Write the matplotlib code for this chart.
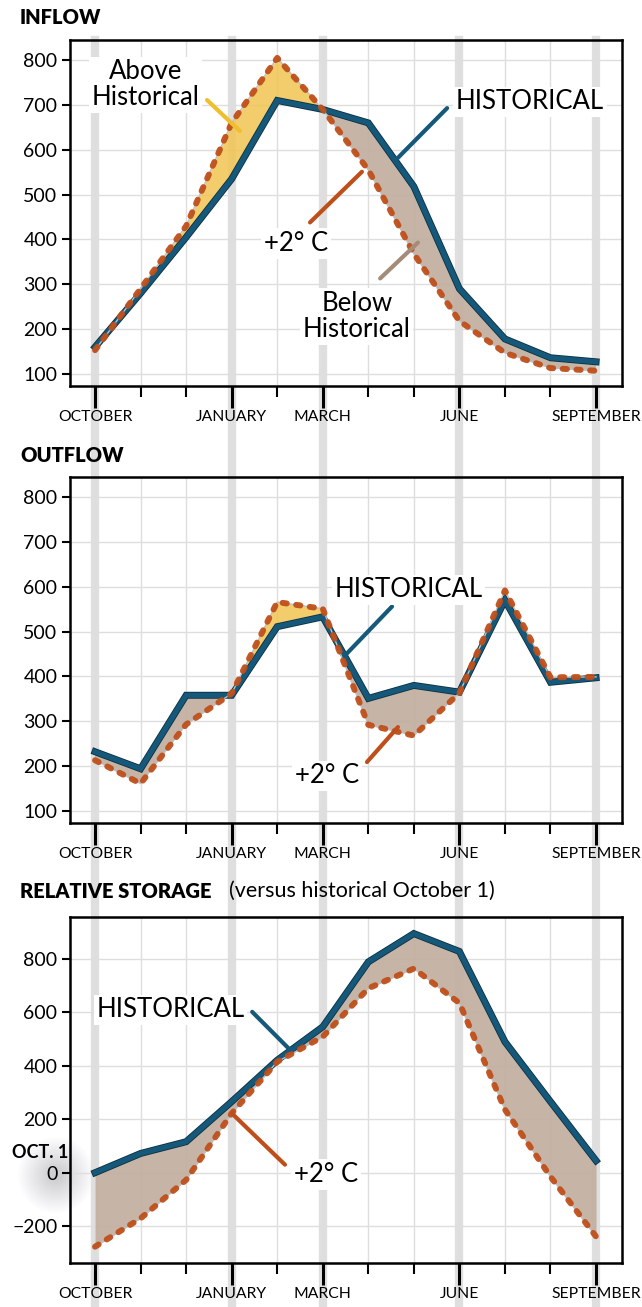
import matplotlib

matplotlib.use("Agg")
import matplotlib.pyplot as plt
import matplotlib.patheffects as pe
import numpy as np
from matplotlib.lines import Line2D
from matplotlib.patches import Circle
from matplotlib.transforms import blended_transform_factory

# --- dados ---
meses = np.arange(12)
rotulos_meses = ["OCTOBER", "", "", "JANUARY", "", "MARCH", "", "", "JUNE", "", "", "SEPTEMBER"]
meses_marcados = [0, 3, 5, 8, 11]

inflow_hist = [160, 280, 405, 535, 710, 690, 660, 518, 290, 178, 136, 127]
inflow_2c = [153, 290, 430, 660, 805, 690, 555, 368, 218, 147, 113, 107]

outflow_hist = [232, 194, 358, 358, 511, 533, 351, 380, 365, 570, 387, 397]
outflow_2c = [213, 161, 293, 362, 566, 551, 292, 268, 363, 592, 398, 399]

storage_hist = [0, 72, 116, 266, 421, 546, 789, 895, 828, 490, 266, 45]
storage_2c = [-277, -171, -27, 222, 415, 509, 690, 764, 635, 236, -15, -239]

AZUL = "#15587a"
AZUL_BORDA = "#0b2f3f"
LARANJA = "#bf4f1a"
AMARELO = "#f2c452"
MARROM = "#c3b1a1"
MARROM_LINHA = "#a48c78"
FAIXA = "#dfdfdf"

FONTE = ["Lato", "DejaVu Sans"]
plt.rcParams["font.family"] = FONTE

fig = plt.figure(figsize=(6.42, 13.07), dpi=100)
esq, larg = 70 / 642, 552 / 642
alt = 346 / 1307
tops = [40, 477, 917]
eixos = [fig.add_axes([esq, 1 - (t + 346) / 1307, larg, alt]) for t in tops]


def painel(ax, hist, mais2, ylim, yticks):
    ax.set_facecolor("none")
    ax.set_xlim(-0.55, 11.57)
    ax.set_ylim(*ylim)
    ax.set_xticks(meses)
    ax.set_xticklabels(rotulos_meses, fontsize=11.3)
    ax.set_yticks(yticks)
    ax.tick_params(axis="y", labelsize=14, length=6, width=1.5, pad=3)
    ax.tick_params(axis="x", length=8, width=1.5, pad=9)
    for i, t in enumerate(ax.xaxis.get_major_ticks()):
        if i in meses_marcados:
            t.tick1line.set_markersize(16)
            t.tick1line.set_markeredgewidth(2.2)
    ax.grid(True, color="#dedede", lw=1)
    ax.set_axisbelow(True)
    for s in ax.spines.values():
        s.set_linewidth(1.8)

    h = np.array(hist, dtype=float)
    m = np.array(mais2, dtype=float)
    ax.fill_between(meses, h, m, where=m >= h, interpolate=True,
                    color=AMARELO, alpha=0.85, lw=0, zorder=2)
    ax.fill_between(meses, h, m, where=m <= h, interpolate=True,
                    color=MARROM, alpha=0.95, lw=0, zorder=2)
    ax.plot(meses, h, color=AZUL, lw=3.8, solid_joinstyle="miter", zorder=3,
            path_effects=[pe.Stroke(linewidth=5.0, foreground=AZUL_BORDA), pe.Normal()])
    ax.plot(meses, m, color="#b7c2cc", lw=1, zorder=4)
    linha, = ax.plot(meses, m, color=LARANJA, lw=4.3, zorder=5,
                     dash_capstyle="round", alpha=0.95)
    linha.set_dashes([0.7, 1.6])


def rotulo(ax, x, y, texto):
    ax.text(x, y, texto, ha="center", va="center", fontsize=18.5, linespacing=1.05,
            zorder=8, bbox=dict(boxstyle="square,pad=0.1", fc="white", ec="none"))


def guia(ax, p0, p1, cor):
    ax.annotate("", xy=p1, xytext=p0, zorder=7,
                arrowprops=dict(arrowstyle="-", color=cor, lw=3,
                                shrinkA=0, shrinkB=0, capstyle="round"))


# INFLOW
ax = eixos[0]
painel(ax, inflow_hist, inflow_2c, (73, 845), range(100, 801, 100))
rotulo(ax, 1.10, 745, "Above\nHistorical")
guia(ax, (2.46, 711), (3.18, 642), "#f0bf2e")
rotulo(ax, 9.55, 707, "HISTORICAL")
guia(ax, (7.73, 693), (6.59, 576), AZUL)
rotulo(ax, 4.41, 391, "+2° C")
guia(ax, (4.72, 438), (5.86, 551), LARANJA)
rotulo(ax, 5.75, 228, "Below\nHistorical")
guia(ax, (6.26, 313), (7.09, 393), MARROM_LINHA)

# OUTFLOW
ax = eixos[1]
painel(ax, outflow_hist, outflow_2c, (73, 845), range(100, 801, 100))
rotulo(ax, 6.89, 593, "HISTORICAL")
guia(ax, (6.52, 556), (5.49, 447), AZUL)
rotulo(ax, 5.09, 178, "+2° C")
guia(ax, (5.97, 209), (6.65, 287), LARANJA)

# RELATIVE STORAGE
ax = eixos[2]
painel(ax, storage_hist, storage_2c, (-338, 957), range(-200, 801, 200))
rotulo(ax, 1.65, 609, "HISTORICAL")
guia(ax, (3.45, 602), (4.28, 460), AZUL)
rotulo(ax, 5.07, -7, "+2° C")
guia(ax, (4.17, 30), (3.01, 221), LARANJA)

# faixas cinzas verticais que atravessam a figura inteira
trans = blended_transform_factory(eixos[0].transData, fig.transFigure)
for x in meses_marcados:
    fig.add_artist(Line2D([x, x], [0, 1 - 40 / 1307], transform=trans,
                          color=FAIXA, lw=6, zorder=-5))

# sombra atrás do "0" (Oct. 1), em polegadas para ficar redonda
for r, a in zip(np.linspace(38, 6, 16), np.linspace(0.018, 0.035, 16)):
    fig.add_artist(Circle((0.56, (1307 - 1175) / 100), r / 100,
                          transform=fig.dpi_scale_trans,
                          color="#8a8e96", alpha=a, lw=0, zorder=-6))
fig.text(40 / 642, 1 - 1152 / 1307, "OCT. 1", ha="center", va="center", fontsize=13,
         fontweight="bold")

# títulos
fig.text(20 / 642, 1 - 18 / 1307, "INFLOW", fontsize=14.5, fontweight="heavy", va="center")
fig.text(20 / 642, 1 - 456 / 1307, "OUTFLOW", fontsize=14.5, fontweight="heavy", va="center")
fig.text(20 / 642, 1 - 891 / 1307, "RELATIVE STORAGE", fontsize=14.5, fontweight="heavy",
         va="center")
fig.text(229 / 642, 1 - 891 / 1307, "(versus historical October 1)", fontsize=15.5,
         va="center")

fig.savefig("out.png", dpi=100, facecolor="white")
